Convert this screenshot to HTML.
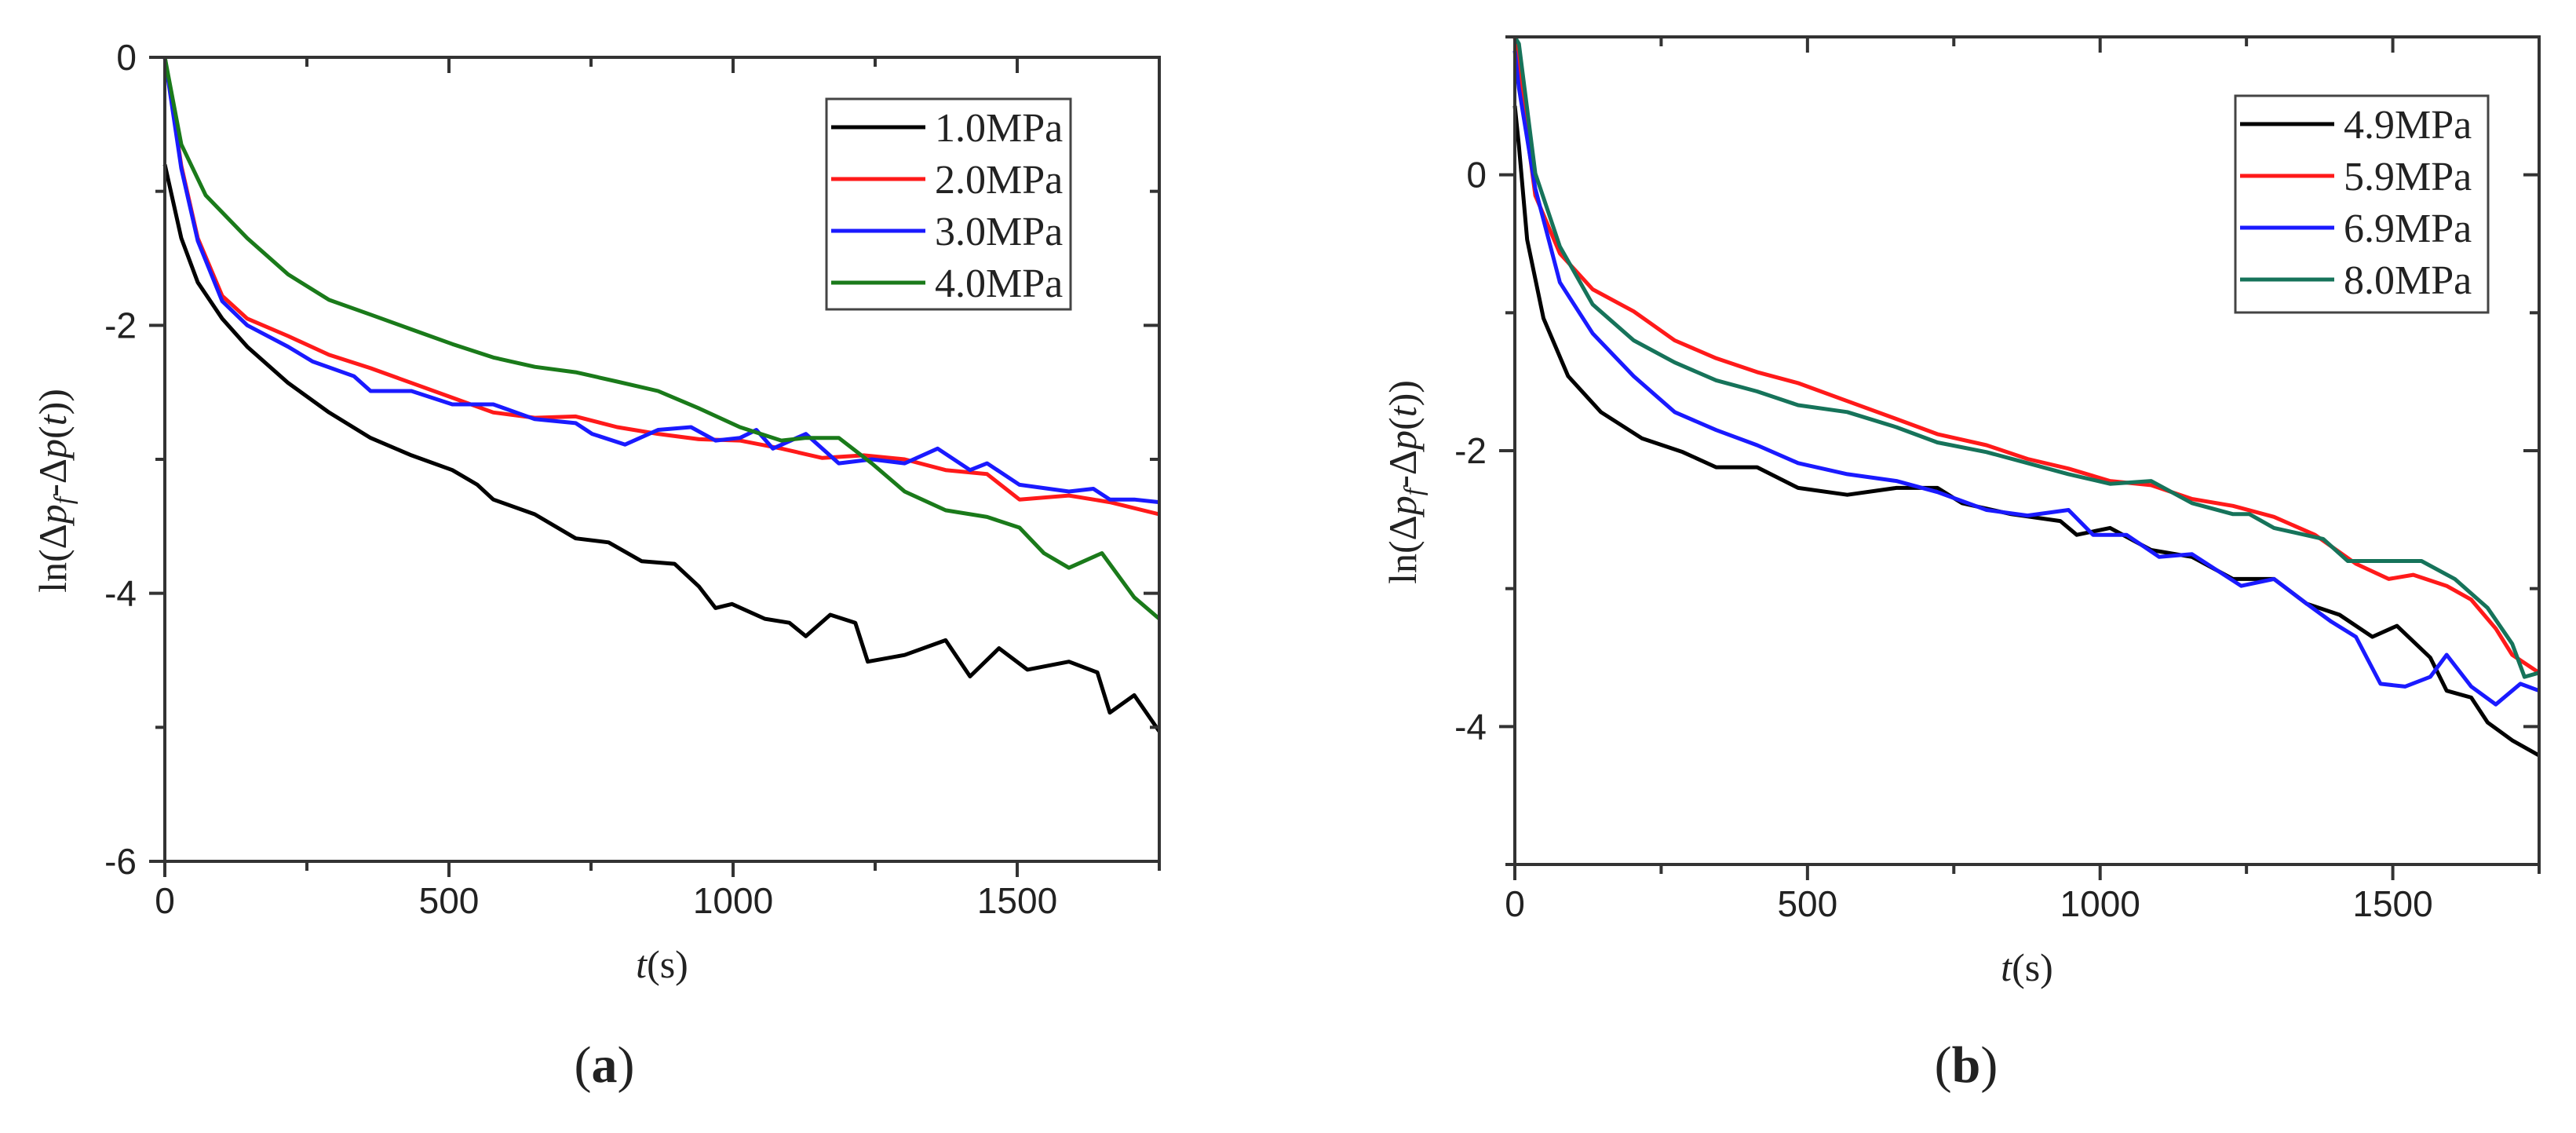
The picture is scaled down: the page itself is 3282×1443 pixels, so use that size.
<!DOCTYPE html>
<html><head><meta charset="utf-8"><style>
html,body{margin:0;padding:0;background:#fff;}
svg{display:block;}
.tick{font-family:"Liberation Sans",Arial,sans-serif;font-size:46px;fill:#222;}
.ser{font-family:"Liberation Serif","Times New Roman",serif;fill:#222;}
</style></head><body>
<svg id="chart" width="3282" height="1443" viewBox="0 0 3282 1443" xmlns="http://www.w3.org/2000/svg"></svg>
<script>
// ---- Panel (a) data ----
const aLabels = ["1.0MPa","2.0MPa","3.0MPa","4.0MPa"];
const aT1 = [0,29,58,101,145,217,289,362,434,506,550,578,651,723,781,839,897,940,969,998,1056,1099,1128,1171,1215,1237,1302,1374,1417,1468,1518,1591,1641,1663,1706,1750];
const aY1 = [-0.8,-1.35,-1.68,-1.95,-2.16,-2.43,-2.65,-2.84,-2.97,-3.08,-3.19,-3.30,-3.41,-3.59,-3.62,-3.76,-3.78,-3.95,-4.11,-4.08,-4.19,-4.22,-4.32,-4.16,-4.22,-4.51,-4.46,-4.35,-4.62,-4.41,-4.57,-4.51,-4.59,-4.89,-4.76,-5.03];
const aT2 = [0,14,29,58,101,145,217,289,362,434,506,578,651,723,796,868,940,1012,1085,1157,1230,1302,1374,1447,1504,1591,1663,1750];
const aY2 = [0,-0.38,-0.81,-1.35,-1.78,-1.95,-2.08,-2.22,-2.32,-2.43,-2.54,-2.65,-2.69,-2.68,-2.76,-2.81,-2.85,-2.86,-2.92,-2.99,-2.97,-3.00,-3.08,-3.11,-3.30,-3.27,-3.32,-3.41];
const aT3 = [0,14,29,58,101,145,217,260,333,362,434,506,578,651,723,752,810,868,926,969,1012,1041,1070,1128,1186,1244,1302,1360,1417,1447,1504,1591,1634,1663,1706,1750];
const aY3 = [0,-0.4,-0.83,-1.37,-1.82,-2.0,-2.16,-2.27,-2.38,-2.49,-2.49,-2.59,-2.59,-2.70,-2.73,-2.81,-2.89,-2.78,-2.76,-2.86,-2.84,-2.78,-2.92,-2.81,-3.03,-3.00,-3.03,-2.92,-3.08,-3.03,-3.19,-3.24,-3.22,-3.30,-3.30,-3.32];
const aT4 = [0,29,72,145,217,289,362,434,506,578,651,723,796,868,940,1012,1085,1128,1186,1244,1302,1374,1447,1504,1547,1591,1649,1706,1750];
const aY4 = [0,-0.65,-1.03,-1.35,-1.62,-1.81,-1.92,-2.03,-2.14,-2.24,-2.31,-2.35,-2.42,-2.49,-2.62,-2.76,-2.86,-2.84,-2.84,-3.03,-3.24,-3.38,-3.43,-3.51,-3.70,-3.81,-3.70,-4.03,-4.19];
const aYTicks = [0,-2,-4,-6];
const xTicks = [0,500,1000,1500];
// ---- Panel (b) data ----
const bLabels = ["4.9MPa","5.9MPa","6.9MPa","8.0MPa"];
const bT1 = [0,7,21,49,91,147,217,287,344,414,484,568,652,722,764,848,932,960,1017,1087,1157,1227,1297,1353,1409,1465,1507,1564,1592,1634,1662,1704,1750];
const bY1 = [0.5,0.21,-0.47,-1.04,-1.46,-1.72,-1.91,-2.01,-2.12,-2.12,-2.27,-2.32,-2.27,-2.27,-2.38,-2.46,-2.51,-2.61,-2.56,-2.72,-2.77,-2.93,-2.93,-3.11,-3.19,-3.35,-3.27,-3.50,-3.74,-3.79,-3.97,-4.10,-4.21];
const bT2 = [0,7,35,77,133,203,273,344,414,484,568,652,722,806,876,946,1017,1087,1157,1227,1297,1367,1437,1493,1535,1592,1634,1676,1704,1750];
const bY2 = [1.0,0.74,-0.15,-0.57,-0.83,-0.99,-1.20,-1.33,-1.43,-1.51,-1.64,-1.77,-1.88,-1.96,-2.06,-2.13,-2.22,-2.25,-2.35,-2.40,-2.48,-2.61,-2.82,-2.93,-2.90,-2.98,-3.08,-3.29,-3.48,-3.61];
const bT3 = [0,7,35,77,133,203,273,344,414,484,568,652,722,806,876,946,988,1045,1101,1157,1241,1297,1353,1395,1437,1479,1521,1564,1592,1634,1676,1718,1750];
const bY3 = [0.9,0.63,-0.10,-0.78,-1.15,-1.46,-1.72,-1.85,-1.96,-2.09,-2.17,-2.22,-2.30,-2.43,-2.47,-2.43,-2.61,-2.61,-2.77,-2.75,-2.98,-2.93,-3.11,-3.24,-3.35,-3.69,-3.71,-3.64,-3.48,-3.71,-3.84,-3.69,-3.74];
const bT4 = [0,7,35,77,133,203,273,344,414,484,568,652,722,806,876,946,1017,1087,1157,1227,1255,1297,1381,1423,1479,1549,1606,1662,1704,1725,1750];
const bY4 = [1.0,0.95,0.01,-0.52,-0.94,-1.20,-1.36,-1.49,-1.57,-1.67,-1.72,-1.83,-1.94,-2.01,-2.09,-2.17,-2.24,-2.22,-2.38,-2.46,-2.46,-2.56,-2.64,-2.80,-2.80,-2.80,-2.93,-3.14,-3.40,-3.64,-3.61];
const bYTicks = [0,-2,-4];
const colorsA = ["#000000","#ff1a1a","#1a1aff","#1a7a1a"];
const colorsB = ["#000000","#ff1a1a","#1a1aff","#16735a"];

const NS = "http://www.w3.org/2000/svg";
const svg = document.getElementById("chart");
function mk(tag, attrs, parent){ const e=document.createElementNS(NS,tag); for(const k in attrs) e.setAttribute(k,attrs[k]); (parent||svg).appendChild(e); return e; }

function panel(cfg){
  const g = mk("g",{});
  
  
  const X = t => cfg.x0 + (t - 0) / 1750 * (cfg.x1 - cfg.x0);
  const Y = v => cfg.y0 + (cfg.ymax - v) / (cfg.ymax - cfg.ymin) * (cfg.y1 - cfg.y0);
  // series
  cfg.series.forEach((s, i) => {
    const d = s.t.map((t, j) => (j ? "L" : "M") + X(t).toFixed(1) + " " + Y(s.y[j]).toFixed(1)).join(" ");
    const p = mk("path",{d:d,fill:"none",stroke:cfg.colors[i],"stroke-width":5,"stroke-linejoin":"round"},g);
    
    
  });
  // frame
  const fr = mk("rect",{x:cfg.x0,y:cfg.y0,width:cfg.x1-cfg.x0,height:cfg.y1-cfg.y0,fill:"none",stroke:"#333","stroke-width":4},g);
  
  
  // x ticks
  for (let t = 0; t <= 1750; t += 250) {
    const major = t % 500 === 0, L = major ? 20 : 12;
    mk("line",{x1:X(t),x2:X(t),y1:cfg.y1,y2:cfg.y1+L,stroke:"#333","stroke-width":4},g);
    mk("line",{x1:X(t),x2:X(t),y1:cfg.y0,y2:cfg.y0+L,stroke:"#333","stroke-width":4},g);
  }
  xTicks.forEach(t => {
    const tx = mk("text",{x:X(t),y:cfg.y1+66,"text-anchor":"middle",class:"tick"},g);
    tx.textContent = t;
    
    
  });
  // y ticks
  for (let v = cfg.ymax; v >= cfg.ymin - 1e-9; v -= 1) {
    const major = Math.abs(v % 2) < 1e-9, L = major ? 20 : 12;
    mk("line",{x1:cfg.x0-L,x2:cfg.x0,y1:Y(v),y2:Y(v),stroke:"#333","stroke-width":4},g);
    mk("line",{x1:cfg.x1-L,x2:cfg.x1,y1:Y(v),y2:Y(v),stroke:"#333","stroke-width":4},g);
  }
  cfg.yTicks.forEach(v => {
    const tx = mk("text",{x:cfg.x0-36,y:Y(v)+16,"text-anchor":"end",class:"tick"},g);
    tx.textContent = v;
    
    
  });
  // axis titles
  const xt = mk("text",{x:(cfg.x0+cfg.x1)/2+0,y:cfg.y1+148,"text-anchor":"middle",class:"ser","font-size":50},g);
  xt.innerHTML = '<tspan font-style="italic">t</tspan>(s)';
  
  
  const yc = cfg.ytx, ycy = (cfg.y0+cfg.y1)/2 + 40;
  const yt = mk("text",{x:yc,y:ycy,"text-anchor":"middle",class:"ser","font-size":50,transform:`rotate(-90 ${yc} ${ycy})`},g);
  yt.innerHTML = 'ln(Δ<tspan font-style="italic">p</tspan><tspan font-style="italic" font-size="34" dy="8">f</tspan><tspan dy="-8">-Δ</tspan><tspan font-style="italic">p</tspan>(<tspan font-style="italic">t</tspan>))';
  
  
  // legend
  const lg = mk("g",{},g);
  
  
  mk("rect",{x:cfg.lx,y:cfg.ly,width:cfg.lw,height:cfg.lh,fill:"#fff",stroke:"#444","stroke-width":3},lg);
  cfg.labels.forEach((lab, i) => {
    const yy = cfg.ly + 36 + i * 66;
    const e = mk("g",{},lg);
    
    
    mk("line",{x1:cfg.lx+6,x2:cfg.lx+126,y1:yy,y2:yy,stroke:cfg.colors[i],"stroke-width":5},e);
    const tx = mk("text",{x:cfg.lx+138,y:yy+18,class:"ser","font-size":52},e);
    tx.textContent = lab;
  });
  // panel label
  const pl = mk("text",{x:cfg.plx,y:1378,"text-anchor":"middle",class:"ser","font-size":66},g);
  pl.innerHTML = '(<tspan font-weight="bold">' + cfg.letter + '</tspan>)';
  
  
}

panel({name:"panel-a",x0:210,x1:1477,y0:73,y1:1097,ymax:0,ymin:-6,yTicks:aYTicks,ytx:84,
  series:[{t:aT1,y:aY1},{t:aT2,y:aY2},{t:aT3,y:aY3},{t:aT4,y:aY4}],colors:colorsA,labels:aLabels,
  lx:1053,ly:126,lw:311,lh:268,plx:770,letter:"a"});
panel({name:"panel-b",x0:1930,x1:3235,y0:47,y1:1101,ymax:1,ymin:-5,yTicks:bYTicks,ytx:1804,
  series:[{t:bT1,y:bY1},{t:bT2,y:bY2},{t:bT3,y:bY3},{t:bT4,y:bY4}],colors:colorsB,labels:bLabels,
  lx:2848,ly:122,lw:322,lh:276,plx:2505,letter:"b"});
</script>
</body></html>
